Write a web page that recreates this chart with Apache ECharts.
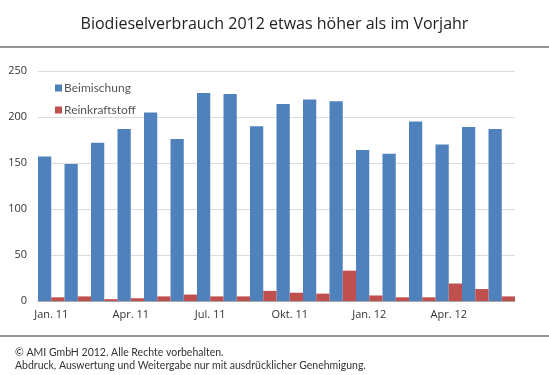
<!DOCTYPE html>
<html>
<head>
<meta charset="utf-8">
<script src="https://cdn.jsdelivr.net/npm/echarts@6/dist/echarts.min.js"></script>
<style>
  html, body { margin: 0; padding: 0; background: #fff; }
  #chart { width: 549px; height: 375px; }
</style>
</head>
<body>
<div id="chart"></div>
<script>
const months = [
  'Jan. 11', 'Feb. 11', 'Mär. 11', 'Apr. 11', 'Mai. 11', 'Jun. 11',
  'Jul. 11', 'Aug. 11', 'Sep. 11', 'Okt. 11', 'Nov. 11', 'Dez. 11',
  'Jan. 12', 'Feb. 12', 'Mär. 12', 'Apr. 12', 'Mai. 12', 'Jun. 12'
];
const beimischung = [157, 149, 172, 187, 205, 176, 226, 225, 190, 214, 219, 217, 164, 160, 195, 170, 189, 187];
const reinkraftstoff = [4, 5, 2, 3, 5, 7, 5, 5, 11, 9, 8, 33, 6, 4, 4, 19, 13, 5];
const yTicks = { min: 0, max: 250, interval: 50 };

const font = '"Open Sans", "Noto Sans", sans-serif';
const small = 'Lato, "Open Sans", sans-serif';
const chart = echarts.init(document.getElementById('chart'));

chart.setOption({
  animation: false,
  backgroundColor: '#fff',
  textStyle: { fontFamily: font },
  title: {
    text: 'Biodieselverbrauch 2012 etwas höher als im Vorjahr',
    left: 'center',
    top: 11,
    textStyle: { fontFamily: font, fontSize: 16, fontWeight: 'normal', color: '#222' }
  },
  graphic: [
    { type: 'line', shape: { x1: 0, y1: 47, x2: 549, y2: 47 }, style: { stroke: '#707070', lineWidth: 1.5 } },
    { type: 'line', shape: { x1: 0, y1: 336, x2: 549, y2: 336 }, style: { stroke: '#707070', lineWidth: 1.5 } },
    {
      type: 'text', left: 15, top: 347,
      style: { text: '© AMI GmbH 2012. Alle Rechte vorbehalten.', font: '10.5px ' + small, fill: '#333' }
    },
    {
      type: 'text', left: 15, top: 360,
      style: { text: 'Abdruck, Auswertung und Weitergabe nur mit ausdrücklicher Genehmigung.', font: '10.5px ' + small, fill: '#333' }
    }
  ],
  legend: {
    orient: 'vertical',
    left: 50,
    top: 77,
    icon: 'rect',
    itemWidth: 7,
    itemHeight: 7,
    itemGap: 10,
    textStyle: { fontFamily: small, fontSize: 12, color: '#555', padding: [0, 0, 0, -3] },
    data: ['Beimischung', 'Reinkraftstoff']
  },
  grid: { left: 38, right: 34, top: 71, bottom: 74 },
  xAxis: {
    type: 'category',
    data: months,
    axisLine: { lineStyle: { color: '#a6a6a6' } },
    axisTick: { interval: 2, length: 5, lineStyle: { color: '#a6a6a6' } },
    axisLabel: { interval: 2, color: '#333', fontSize: 11, margin: 8 }
  },
  yAxis: {
    type: 'value',
    min: yTicks.min,
    max: yTicks.max,
    interval: yTicks.interval,
    axisLine: { show: false },
    axisTick: { show: false },
    axisLabel: { color: '#333', fontSize: 11, margin: 11 },
    splitLine: { lineStyle: { color: '#dcdcdc' } }
  },
  series: [
    {
      name: 'Beimischung',
      type: 'bar',
      barGap: '0%',
      barCategoryGap: '0%',
      itemStyle: { color: '#4f81bd' },
      data: beimischung
    },
    {
      name: 'Reinkraftstoff',
      type: 'bar',
      barGap: '0%',
      barCategoryGap: '0%',
      itemStyle: { color: '#c0504d' },
      data: reinkraftstoff
    }
  ]
});
</script>
</body>
</html>
